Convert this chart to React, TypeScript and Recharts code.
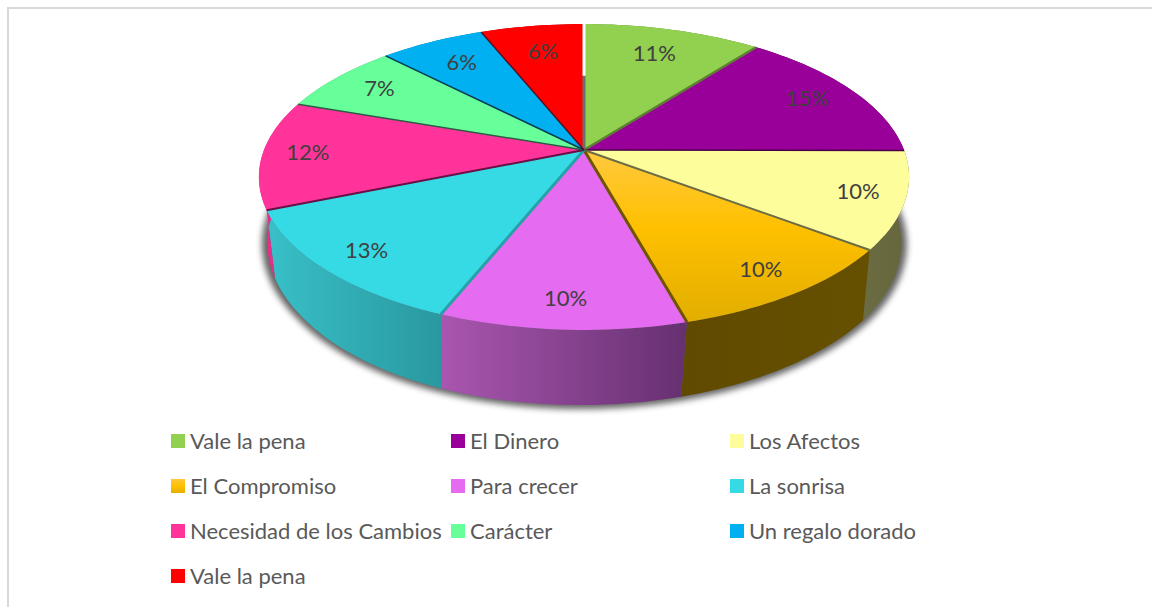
import React from "react";
import { PieChart, Pie, Legend } from "recharts";

const categories = [
  "Vale la pena", "El Dinero", "Los Afectos", "El Compromiso", "Para crecer",
  "La sonrisa", "Necesidad de los Cambios", "Carácter", "Un regalo dorado", "Vale la pena",
];
const values = [10.5, 14.55, 10.25, 10.4, 10.4, 12.7, 11.5, 7.4, 6.2, 6.1];
const topColors = [
  "#92D050", "#990099", "#FDFD9B", "url(#faceOrange)", "#E56BF0",
  "#35DAE4", "#FF3399", "#66FF99", "#00B0F0", "#FF0000",
];
const legendSwatches = [
  "#92D050", "#990099", "#FDFD9B", "linear-gradient(#FFC73A,#FFC000 50%,#E5B000)", "#E56BF0",
  "#35DAE4", "#FF3399", "#66FF99", "#00B0F0", "#FF0000",
];
const wallStops = [
  ["#5E8A33", "#5E8A33"], ["#5A005A", "#5A005A"], ["#6C6C42", "#66663C"], ["#5F4A00", "#665000"], ["#A956B0", "#663070"],
  ["#38C0C8", "#2A989F"], ["#E92E8C", "#D92A82"], ["#3FA060", "#3FA060"], ["#007AA8", "#007AA8"], ["#A80000", "#A80000"],
];
const boundaryColors = [
  "#6E6E6E", "#5E7F33", "#450045", "#6B6B45", "#6E5500",
  "#27A0A8", "#6A0F45", "#2F5A45", "#0B3B55", "#5A1020",
];
const boundaryWidths = [3, 2.5, 1.5, 2, 3, 3, 2, 1.5, 1.5, 1.5];

const rows = categories.map((name, idx) => ({ name, value: values[idx], idx }));

const CX = 584;
const CY = 150;
const R = 320;
const K = -0.1765;
const FLAT = 0.463;

const rad = (d: number) => (d * Math.PI) / 180;

function project(angle: number, f: number, cx: number, cy: number, r: number) {
  const t = rad(90 - angle);
  const u = f * Math.sin(t);
  const v = -f * Math.cos(t);
  const d = 1 + K * v;
  return { x: cx + (r * u) / d, y: cy + (r * FLAT * v) / d };
}

function lower(p: { x: number; y: number }) {
  const lean = 4 * Math.max(0, (p.y - 250) / 80);
  return { x: 600 + (p.x - 600) * 0.975 - lean, y: p.y * 1.058 + 56 };
}

function arcPoints(a0: number, a1: number, f: number, cx: number, cy: number, r: number) {
  const n = Math.max(2, Math.ceil(Math.abs(a1 - a0) / 1.5));
  const pts = [];
  for (let i = 0; i <= n; i++) pts.push(project(a0 + ((a1 - a0) * i) / n, f, cx, cy, r));
  return pts;
}

const toPath = (pts: { x: number; y: number }[]) =>
  pts.map((p, i) => `${i ? "L" : "M"}${p.x.toFixed(2)},${p.y.toFixed(2)}`).join("") + "Z";

function ShadowShape(p: any) {
  const rim = arcPoints(p.startAngle, p.endAngle, 1.015, p.cx, p.cy, p.outerRadius).map(lower);
  const apex = lower(project(0, 0, p.cx, p.cy, p.outerRadius));
  return <path d={toPath([apex, ...rim])} fill="#303030" stroke="#303030" strokeWidth={1} />;
}

function WallShape(p: any) {
  const top = arcPoints(p.startAngle, p.endAngle, 1, p.cx, p.cy, p.outerRadius);
  const bottom = top.map(lower).reverse();
  return <path d={toPath([...top, ...bottom])} fill={`url(#wall${p.payload.idx})`} />;
}

function FaceShape(p: any) {
  const top = arcPoints(p.startAngle, p.endAngle, 1, p.cx, p.cy, p.outerRadius);
  const apex = project(0, 0, p.cx, p.cy, p.outerRadius);
  return <path d={toPath([apex, ...top])} fill={topColors[p.payload.idx]} />;
}

function EdgeShape(p: any) {
  const i = p.payload.idx;
  const a = project(p.startAngle, 0, p.cx, p.cy, p.outerRadius);
  const b = project(p.startAngle, 1, p.cx, p.cy, p.outerRadius);
  if (i === 0) {
    const m = project(p.startAngle, 0.55, p.cx, p.cy, p.outerRadius);
    return (
      <g>
        <line x1={a.x} y1={a.y} x2={m.x} y2={m.y} stroke={boundaryColors[i]} strokeWidth={boundaryWidths[i]} />
        <line x1={m.x} y1={m.y} x2={b.x} y2={b.y - 2} stroke="#FFFFFF" strokeWidth={boundaryWidths[i]} />
      </g>
    );
  }
  return <line x1={a.x} y1={a.y} x2={b.x} y2={b.y} stroke={boundaryColors[i]} strokeWidth={boundaryWidths[i]} />;
}

function renderLabel(p: any) {
  const t = rad(90 - p.midAngle);
  const v = -Math.cos(t);
  const reach = Math.min(0.86, 0.88 + 0.12 * v);
  const q = project(p.midAngle, reach, p.cx, p.cy, p.outerRadius);
  return (
    <text
      x={q.x}
      y={q.y - 2}
      textAnchor="middle"
      dominantBaseline="central"
      fontFamily="Lato"
      fontSize={22}
      fill="#404040"
    >
      {`${Math.round(p.percent * 100)}%`}
    </text>
  );
}

function renderLegend() {
  return (
    <div
      style={{
        position: "absolute",
        left: 171,
        top: 418,
        display: "grid",
        gridTemplateColumns: "280px 279px 300px",
        gridAutoRows: "45px",
        fontFamily: "Lato",
        fontSize: 22,
        color: "#595959",
        whiteSpace: "nowrap",
      }}
    >
      {categories.map((name, i) => (
        <div key={i} style={{ display: "flex", alignItems: "center" }}>
          <span style={{ width: 14, height: 14, marginRight: 5, background: legendSwatches[i], flex: "none" }} />
          <span>{name}</span>
        </div>
      ))}
    </div>
  );
}

export default function App() {
  const common = {
    data: rows,
    dataKey: "value",
    nameKey: "name",
    cx: CX,
    cy: CY,
    outerRadius: R,
    innerRadius: 0,
    startAngle: 90,
    endAngle: -270,
    isAnimationActive: false,
    stroke: "none",
  };
  return (
    <div style={{ position: "absolute", left: 0, top: 0, width: 1152, height: 607, background: "#fff", overflow: "hidden" }}>
      <style>{`.pie-shadow{filter:blur(3px);opacity:.75}`}</style>
      <div style={{ position: "absolute", left: 7, top: 7, width: 1145, height: 2, background: "#D9D9D9" }} />
      <div style={{ position: "absolute", left: 7, top: 7, width: 2, height: 600, background: "#D9D9D9" }} />
      <div style={{ position: "absolute", left: 0, top: 0 }}>
        <PieChart width={1152} height={607} margin={{ top: 0, right: 0, bottom: 0, left: 0 }}>
          <defs>
            <linearGradient id="faceOrange" x1="0" y1="0" x2="0" y2="1">
              <stop offset="0%" stopColor="#FFC93F" />
              <stop offset="45%" stopColor="#FFC000" />
              <stop offset="100%" stopColor="#E2AE00" />
            </linearGradient>
            {wallStops.map((s, i) => (
              <linearGradient key={i} id={`wall${i}`} x1="0" y1="0" x2="1" y2="0">
                <stop offset="0%" stopColor={s[0]} />
                <stop offset="100%" stopColor={s[1]} />
              </linearGradient>
            ))}
          </defs>
          <Pie {...common} className="pie-shadow" legendType="none" shape={ShadowShape} />
          <Pie {...common} legendType="none" shape={WallShape} />
          <Pie {...common} fill="#92D050" shape={FaceShape} />
          <Pie {...common} legendType="none" shape={EdgeShape} label={renderLabel} labelLine={false} />
          <Legend
            layout="horizontal"
            verticalAlign="middle"
            align="center"
            content={renderLegend}
            wrapperStyle={{ left: 0, top: 0, width: 1152, height: 607 }}
          />
        </PieChart>
      </div>
    </div>
  );
}
